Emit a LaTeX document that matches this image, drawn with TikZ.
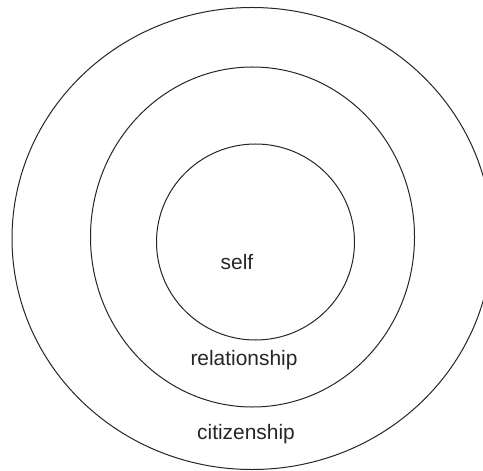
\documentclass[tikz,border=0pt]{standalone}
\usepackage{fontspec}
\setmainfont{Liberation Sans}
\begin{document}
\begin{tikzpicture}[x=1bp,y=-1bp,
  ring/.style={draw=black!85, line width=1bp},
  lbl/.style={font=\fontsize{21}{25}\selectfont, inner sep=0pt, text=black!85}]
\useasboundingbox (0,0) rectangle (483,471);
\fill[white] (0,0) rectangle (483,471);
\draw[ring] (252,238.5) ellipse [x radius=240, y radius=231];
\draw[ring] (252.5,237) ellipse [x radius=162, y radius=170];
\draw[ring] (255.5,242) ellipse [x radius=99, y radius=98];
\node[lbl] (self) at (237,262) {self};
\node[lbl] (relationship) at (244,360) {relationship};
\node[lbl] (citizenship) at (246,434) {citizenship};
\end{tikzpicture}
\end{document}
